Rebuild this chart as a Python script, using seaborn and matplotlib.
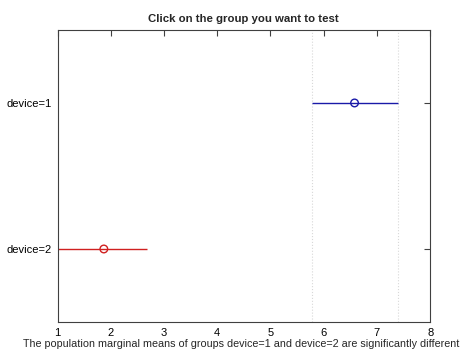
import numpy as np
import pandas as pd
import matplotlib
matplotlib.use('Agg')
import matplotlib.pyplot as plt
import seaborn as sns

# Data
groups = ['device=1', 'device=2']
means = [6.58, 1.87]
lows = [5.78, 1.0]
highs = [7.40, 2.68]
colors = ['#1a1aa8', '#d02020']

sns.set_style('white')
plt.rcParams['font.family'] = ['Liberation Sans', 'DejaVu Sans']

df = pd.DataFrame({'group': groups, 'mean': means, 'low': lows, 'high': highs})
ypos = np.arange(1, len(groups) + 1)
df['y'] = ypos

fig = plt.figure(figsize=(4.64, 3.54), dpi=100)
ax = fig.add_axes([0.124, 0.0904, 0.803, 0.825])

# dotted reference lines at the chosen group's interval
ax.axvline(df['low'][0], color='#d8d8d8', linestyle=':', linewidth=0.8, zorder=0)
ax.axvline(df['high'][0], color='#d8d8d8', linestyle=':', linewidth=0.8, zorder=0)

for i, row in df.iterrows():
    ax.hlines(row['y'], row['low'], row['high'], color=colors[i], linewidth=1.0)

sns.scatterplot(data=df, x='mean', y='y', hue='group', palette=colors,
                marker='o', s=30, linewidth=1.0, legend=False, ax=ax)
coll = ax.collections[-1]
coll.set_facecolor('none')
coll.set_edgecolor(colors)

ax.set_xlim(1, 8)
ax.set_ylim(len(groups) + 0.5, 0.5)
ax.set_xticks(range(1, 9))
ax.set_yticks(ypos)
ax.set_yticklabels(groups)
ax.tick_params(direction='in', length=4, width=0.8, labelsize=8,
               top=True, right=True, pad=4, colors='#404040', labelcolor='black')
for sp in ax.spines.values():
    sp.set_color('#404040')
    sp.set_linewidth(0.8)
ax.set_title('Click on the group you want to test', fontsize=8.2, fontweight='bold', pad=6)
ax.set_xlabel('The population marginal means of groups device=1 and device=2 are significantly different',
              fontsize=7.75)
ax.xaxis.set_label_coords(0.494, -0.058, transform=ax.transAxes)
ax.xaxis.label.set_va('top')
ax.set_ylabel('')

fig.savefig('out.png', dpi=100)
